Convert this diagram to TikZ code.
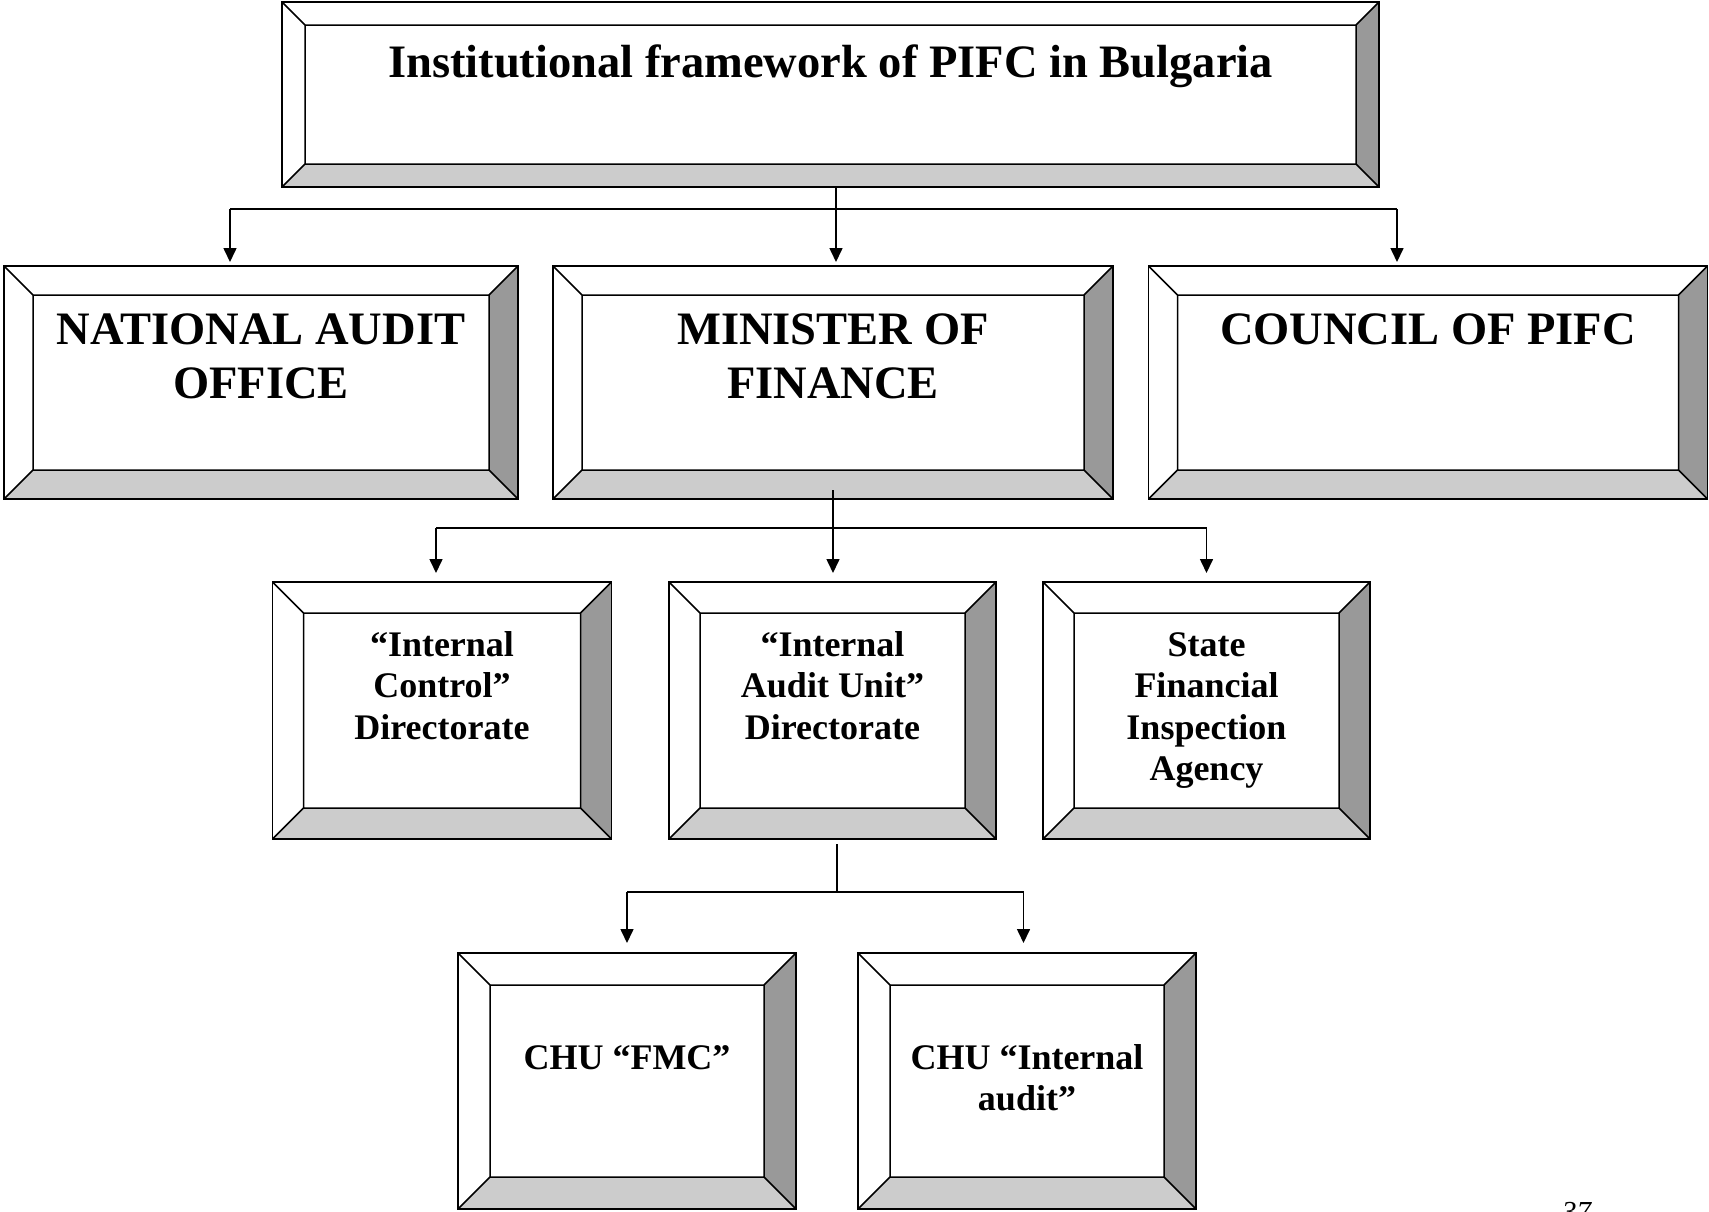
\documentclass[tikz,border=0pt]{standalone}
\usepackage{fontspec}
\setmainfont{Liberation Serif}
\usetikzlibrary{arrows.meta,calc}
\definecolor{bevdark}{HTML}{999999}
\definecolor{bevlight}{HTML}{CCCCCC}
\newcommand\bevsize{30pt}
\newcommand\stt{\rule{0pt}{1em}}
\begin{document}
\begin{tikzpicture}[x=1pt,y=-1pt,
  bev/.code={\def\bevsize{#1}},
  bevbox/.style={rectangle, draw=black, line width=1.8pt, inner sep=0pt, outer sep=0pt, fill=white,
    path picture={
      \coordinate (SW) at (path picture bounding box.south west);
      \coordinate (NE) at (path picture bounding box.north east);
      \coordinate (NW) at (path picture bounding box.north west);
      \coordinate (SE) at (path picture bounding box.south east);
      \coordinate (iSW) at ([shift={(\bevsize,\bevsize)}]SW);
      \coordinate (iNE) at ([shift={(-\bevsize,-\bevsize)}]NE);
      \coordinate (iNW) at ([shift={(\bevsize,-\bevsize)}]NW);
      \coordinate (iSE) at ([shift={(-\bevsize,\bevsize)}]SE);
      \fill[bevdark] (SE) -- (NE) -- (iNE) -- (iSE) -- cycle;
      \fill[bevlight] (SW) -- (SE) -- (iSE) -- (iSW) -- cycle;
      \draw[line width=1.5pt] (iSW) rectangle (iNE) (SW) -- (iSW) (NW) -- (iNW) (NE) -- (iNE) (SE) -- (iSE);
    }},
  big/.style={font=\bfseries\fontsize{46.5}{54}\selectfont, align=center, inner sep=0pt, anchor=north},
  small/.style={font=\bfseries\fontsize{36}{41.5}\selectfont, align=center, inner sep=0pt, anchor=north},
  conn/.style={line width=1.6pt},
  arr/.style={line width=1.6pt, -{Triangle[length=14pt,width=13pt]}},
]
\useasboundingbox (0,0) rectangle (1709,1211);

% boxes
\node[bevbox, bev=23pt, minimum width=1097pt, minimum height=185pt] (top) at (830.5,94.5) {};
\node[bevbox, bev=29pt, minimum width=514pt, minimum height=233pt] (nao) at (261,382.5) {};
\node[bevbox, bev=29pt, minimum width=560pt, minimum height=233pt] (mof) at (833,382.5) {};
\node[bevbox, bev=29pt, minimum width=559pt, minimum height=233pt] (council) at (1428,382.5) {};
\node[bevbox, bev=31pt, minimum width=339pt, minimum height=257pt] (icd) at (442,710.5) {};
\node[bevbox, bev=31pt, minimum width=327pt, minimum height=257pt] (iau) at (832.5,710.5) {};
\node[bevbox, bev=31pt, minimum width=327pt, minimum height=257pt] (sfia) at (1206.5,710.5) {};
\node[bevbox, bev=32pt, minimum width=338pt, minimum height=256pt] (fmc) at (627,1081) {};
\node[bevbox, bev=32pt, minimum width=338pt, minimum height=256pt] (chuia) at (1027,1081) {};

% texts
\node[big] (ttop) at ([yshift=-29pt]top.north) {\stt Institutional framework of PIFC in Bulgaria};
\node[big] (tnao) at ([yshift=-32pt]nao.north) {\stt NATIONAL AUDIT\\OFFICE};
\node[big] (tmof) at ([yshift=-32pt]mof.north) {\stt MINISTER OF\\FINANCE};
\node[big] (tcouncil) at ([yshift=-32pt]council.north) {\stt COUNCIL OF PIFC};
\node[small] (ticd) at ([yshift=-38pt]icd.north) {\stt “Internal\\Control”\\Directorate};
\node[small] (tiau) at ([yshift=-38pt]iau.north) {\stt “Internal\\Audit Unit”\\Directorate};
\node[small] (tsfia) at ([yshift=-38pt]sfia.north) {\stt State\\Financial\\Inspection\\Agency};
\node[small] (tfmc) at ([yshift=-80pt]fmc.north) {\stt CHU “FMC”};
\node[small] (tchuia) at ([yshift=-80pt]chuia.north) {\stt CHU “Internal\\audit”};

% page number (cut off at the bottom edge, as in the reference)
\node[font=\itshape\fontsize{29}{30}\selectfont, anchor=north west, inner sep=0pt] (pg) at (1562,1202) {37};

% connectors row 1
\coordinate (j1) at (836,209);
\coordinate (a1) at ([xshift=-31pt]nao.north);
\coordinate (a2) at ([xshift=3pt]mof.north);
\coordinate (a3) at ([xshift=-31pt]council.north);
\draw[conn] (a1 |- j1) -- (a3 |- j1);
\draw[conn] (top.south -| j1) -- (j1);
\draw[arr, shorten >=4pt] (a1 |- j1) -- (a1);
\draw[arr, shorten >=4pt] (j1) -- (a2);
\draw[arr, shorten >=4pt] (a3 |- j1) -- (a3);

% connectors row 2
\coordinate (j2) at (833,528);
\coordinate (b1) at ([xshift=-6pt]icd.north);
\coordinate (b3) at (sfia.north);
\coordinate (k2) at ([yshift=9pt]mof.south);
\draw[conn] (b1 |- j2) -- (b3 |- j2);
\draw[conn] (k2) -- (j2);
\draw[arr, shorten >=9pt] (b1 |- j2) -- (b1);
\draw[arr, shorten >=9pt] (j2) -- (iau.north -| j2);
\draw[arr, shorten >=9pt] (b3 |- j2) -- (b3);

% connectors row 3
\coordinate (j3) at (837,892);
\coordinate (k3) at ([yshift=-5pt]iau.south);
\coordinate (d2) at ([xshift=-3.5pt]chuia.north);
\draw[conn] (k3 -| j3) -- (j3);
\draw[conn] (fmc.north |- j3) -- (d2 |- j3);
\draw[arr, shorten >=10pt] (fmc.north |- j3) -- (fmc.north);
\draw[arr, shorten >=10pt] (d2 |- j3) -- (d2);
\end{tikzpicture}
\end{document}
